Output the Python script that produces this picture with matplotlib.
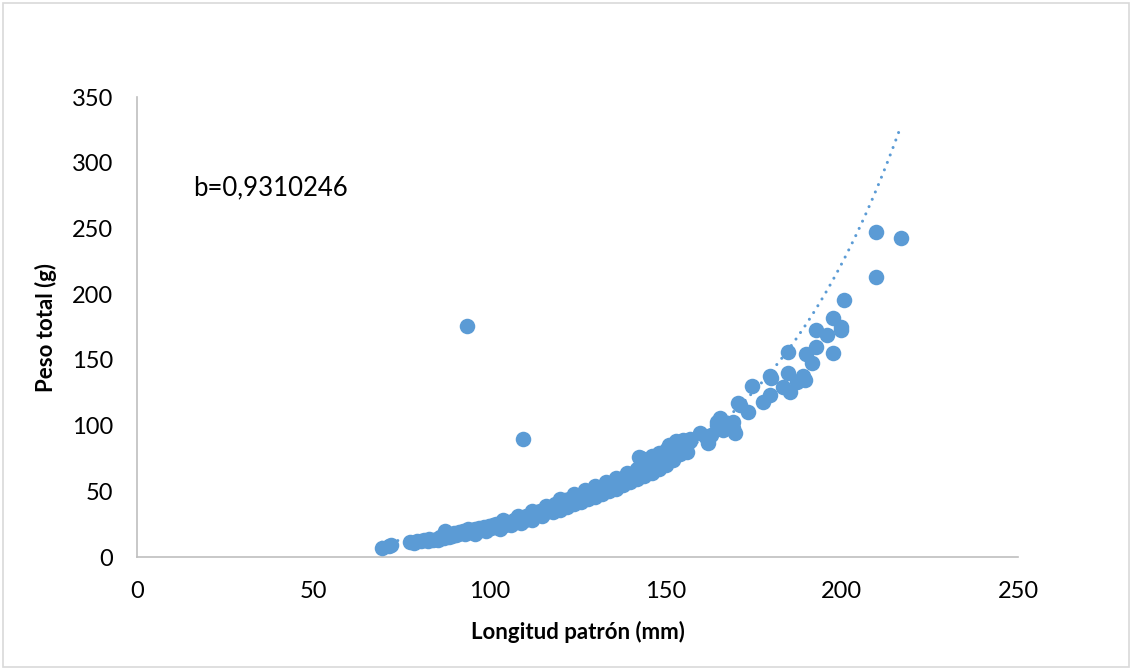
import numpy as np
import matplotlib
matplotlib.use('Agg')
import matplotlib.pyplot as plt
from matplotlib.patches import Rectangle

plt.rcParams['font.family'] = ['Lato', 'DejaVu Sans']

# longitud patron (mm) vs peso total (g)
long_mm = [69.5, 71.5, 72.0, 77.5, 78.5, 79.5, 80.5, 81.5, 82.5, 83.0, 84.0, 85.0, 85.5, 86.0,
           87.0, 87.5, 88.0, 88.5, 89.0, 89.5, 90.0, 90.5, 91.0, 91.5, 92.0, 92.5, 93.0, 93.5,
           94.0, 94.5, 95.0, 95.5, 96.0, 96.5, 97.0, 97.5, 98.0, 98.5, 99.0, 99.5, 100.0, 100.5,
           101.0, 101.5, 102.0, 102.5, 103.0, 103.5, 104.0, 104.5, 105.0, 105.5, 106.0, 106.5,
           107.0, 107.5, 108.0, 108.5, 109.0, 110.0, 110.5, 111.0, 111.5, 112.0, 112.5, 113.0,
           113.5, 114.0, 114.5, 115.0, 115.5, 116.0, 116.5, 117.0, 117.5, 118.0, 118.5, 119.0,
           119.5, 120.0, 120.5, 121.0, 121.5, 122.0, 122.5, 123.0, 124.0, 124.5, 125.0, 125.5,
           126.0, 126.5, 127.0, 128.0, 128.5, 129.0, 129.5, 130.0, 130.5, 131.0, 131.5, 132.0,
           132.5, 133.0, 133.5, 134.0, 134.5, 135.0, 135.5, 136.0, 136.5, 137.0, 137.5, 138.0,
           138.5, 139.0, 139.5, 140.0, 140.5, 141.0, 141.5, 142.0, 142.5, 143.0, 143.5, 144.0,
           144.5, 145.0, 145.5, 146.0, 146.5, 147.0, 147.5, 148.0, 148.5, 149.0, 149.5, 150.0,
           150.5, 151.0, 151.5, 152.0, 152.5, 153.0, 153.5, 154.0, 154.5, 155.0, 155.5, 156.0,
           157.0, 159.8, 161.6, 162.1, 163.0, 164.5, 165.4, 164.5, 166.4, 166.9, 169.2, 169.2,
           169.7, 170.6, 171.1, 173.5, 174.6, 177.7, 179.6, 179.6, 180.0, 183.4, 184.6, 184.8,
           185.3, 187.2, 189.0, 189.6, 189.7, 191.6, 192.6, 192.6, 195.7, 197.6, 197.6, 199.7,
           199.7, 200.6, 209.7, 209.7, 216.7, 93.6, 109.5,
           96.0, 99.0, 103.0, 106.0, 109.0, 112.0, 115.0, 118.0, 120.0, 122.0, 124.0, 126.0,
           128.0, 130.0, 132.0, 134.0, 136.0, 138.0, 140.0, 142.0, 144.0, 146.0, 148.0, 150.0,
           152.0, 154.0, 156.0,
           104.0, 108.0, 112.0, 116.0, 120.0, 124.0, 127.0, 130.0, 133.0, 136.0, 139.0, 142.0,
           145.0, 148.0, 151.0, 153.0, 155.0, 157.0, 143.0, 146.0]
peso_g = [7.2, 8.5, 9.5, 11.5, 10.5, 12.5, 11.8, 12.8, 12.0, 13.5, 12.8, 14.0, 13.0, 15.5,
          14.5, 20.0, 16.0, 15.0, 17.0, 16.0, 18.0, 16.5, 17.5, 19.0, 18.0, 20.0, 17.5, 19.5,
          21.0, 19.0, 20.5, 18.5, 21.0, 20.0, 22.0, 20.5, 21.5, 23.0, 21.0, 22.5, 23.5, 22.0,
          24.0, 23.0, 25.0, 24.0, 23.5, 25.5, 26.0, 24.5, 26.5, 25.5, 27.0, 26.0,
          28.0, 27.0, 29.0, 27.5, 30.0, 28.5, 31.0, 29.5, 32.0, 30.5, 33.0, 31.5,
          34.0, 32.5, 35.0, 33.5, 36.0, 34.0, 37.0, 35.5, 38.0, 36.5, 40.0, 37.5,
          41.0, 39.0, 42.0, 38.5, 43.0, 40.5, 44.0, 41.5, 43.0, 45.0, 42.5, 46.0,
          44.0, 47.0, 45.0, 48.0, 46.0, 49.0, 47.5, 51.0, 48.5, 52.0, 49.5, 53.0,
          50.5, 54.0, 51.5, 55.0, 52.5, 56.0, 54.0, 57.0, 55.0, 58.5, 56.0, 60.0,
          57.5, 61.0, 59.0, 62.5, 60.0, 64.0, 62.0, 66.0, 76.0, 63.0, 68.0, 65.0,
          70.0, 67.0, 72.0, 69.0, 74.0, 70.5, 76.0, 72.0, 78.0, 74.0, 80.0, 76.0,
          82.0, 78.0, 84.0, 80.0, 86.0, 81.0, 87.0, 83.0, 85.0, 88.0, 82.0, 86.0,
          88.0, 94.0, 91.5, 86.5, 93.0, 103.0, 105.5, 100.5, 96.6, 98.0, 103.0, 98.0,
          94.0, 117.0, 116.0, 110.6, 130.4, 118.0, 123.3, 137.7, 136.0, 129.6, 155.8, 139.8,
          125.8, 133.4, 137.7, 134.7, 154.5, 147.4, 160.0, 172.8, 169.0, 181.6, 155.5, 172.8,
          175.2, 195.6, 247.3, 213.3, 243.0, 176.0, 89.8,
          17.5, 19.5, 21.5, 24.0, 26.0, 28.0, 31.0, 34.0, 36.0, 38.0, 40.0, 42.0,
          44.0, 46.0, 48.0, 50.0, 52.0, 55.0, 57.0, 59.0, 62.0, 64.0, 67.0, 70.0,
          74.0, 78.0, 80.0,
          28.0, 31.0, 35.0, 39.0, 44.0, 48.0, 51.0, 54.0, 57.0, 60.0, 64.0, 67.0,
          73.0, 79.0, 85.0, 88.0, 89.0, 90.0, 75.0, 77.0]

# Excel exponential trendline, as drawn
trend_a = 2.29
trend_k = 0.0229
label_b = 'b=0,9310246'

blue = '#5B9BD5'

fig = plt.figure(figsize=(11.32, 6.70), dpi=100)
ax = fig.add_axes([137/1132, 1-557/670, (1018-137)/1132, (557-97)/670])

ax.scatter(long_mm, peso_g, s=125, color=blue, linewidths=0, zorder=3)

xt = np.linspace(min(long_mm), max(long_mm), 200)
ax.plot(xt, trend_a*np.exp(trend_k*xt), color=blue, lw=2.2,
        dashes=(0.01, 2.6), dash_capstyle='round', zorder=4)

ax.text(15.9, 281, label_b, fontsize=18.5, va='center', ha='left')

ax.set_xlim(0, 250)
ax.set_ylim(0, 350)
ax.set_xticks(range(0, 251, 50))
ax.set_yticks(range(0, 351, 50))
ax.tick_params(length=0, labelsize=17, pad=17)
for s in ['top', 'right']:
    ax.spines[s].set_visible(False)
for s in ['left', 'bottom']:
    ax.spines[s].set_color('#BFBFBF')
    ax.spines[s].set_linewidth(1.2)

ax.set_xlabel('Longitud patrón (mm)', fontsize=16, fontweight='bold', labelpad=14)
ax.set_ylabel('Peso total (g)', fontsize=16, fontweight='bold', labelpad=11)

fig.patches.append(Rectangle((0.003, 0.004), 0.994, 0.992, transform=fig.transFigure,
                             fill=False, edgecolor='#D9D9D9', lw=1.2))

fig.savefig('out.png', dpi=100)
